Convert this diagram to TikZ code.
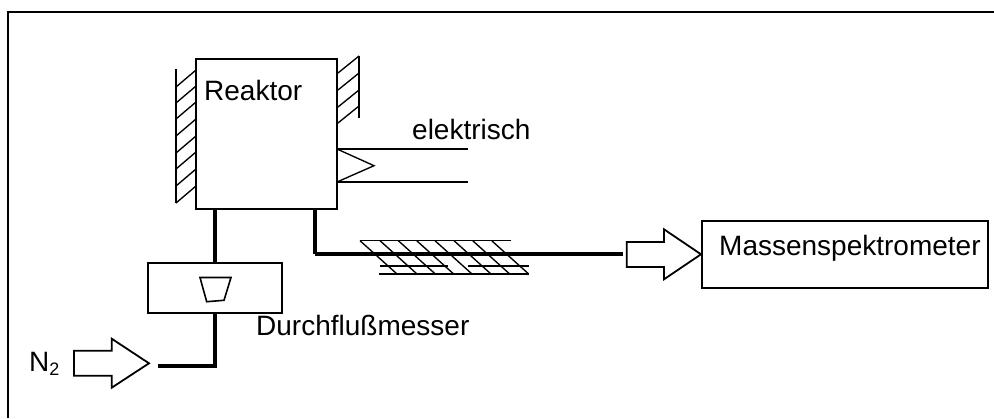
\documentclass[tikz,border=0pt]{standalone}
\usepackage{fontspec}
\setmainfont{Liberation Sans}
\tikzset{
  x=1pt,y=-1pt,
  thinline/.style={line width=1.35pt,black},
  box/.style={draw=black,line width=2pt,fill=white,inner sep=0pt,outer sep=0pt},
  pipe/.style={line width=4.4pt,black},
  hollow/.style={draw=black,line width=1.8pt,fill=white,line join=miter},
  lab/.style={inner sep=0pt,font=\fontsize{28pt}{30pt}\selectfont,anchor=base west}
}
\begin{document}
\begin{tikzpicture}
\useasboundingbox (0,0) rectangle (994,418);
% frame
\draw[line width=2pt,line cap=butt] (7.6,418) -- (7.6,12) -- (994,12);
% hatching
\draw[thinline] (176,69) -- (176,203);
\foreach \y in {87,103,119,136,153,169,186,203}{\draw[thinline] (176,\y) -- (196,\y-17);}
\draw[thinline] (359,56) -- (359,118);
\foreach \y in {73,90,107,123}{\draw[thinline] (338,\y) -- (359,\y-17);}
% reactor
\node[box,minimum width=140.6pt,minimum height=149.6pt] (reaktor) at (266.4,134) {};
\coordinate (rb2) at (314.7,208.8);
\node[lab] (lreak) at (204,100) {Reaktor};
% electric
\coordinate (ea) at (337,149);
\coordinate (eb) at (337,182);
\coordinate (ec) at (374,165.7);
\coordinate (ea2) at (468,149);
\coordinate (eb2) at (468,182);
\draw[thinline] (ea) -- (ea2);
\draw[thinline] (eb) -- (eb2);
\draw[thinline] (ea) -- (ec) -- (eb);
\node[lab] (lel) at (412,139.5) {elektrisch};
% flow meter
\node[box,minimum width=133.4pt,minimum height=50pt] (fm) at (215,288.3) {};
\draw[line width=1.6pt] (200,277.5) -- (231,277.5) -- (224,300.3) -- (206.7,301.7) -- cycle;
\node[lab] (lfm) at (256,335) {Durchflußmesser};
\draw[pipe] (reaktor.south -| fm.north) -- (fm.north);
\coordinate (n2end) at (157.7,365.7);
\draw[pipe,line join=miter] (fm.south) -- (fm.south |- n2end) -- (n2end);
% N2
\node[lab] (ln2) at (29,371) {N\raisebox{-4.5pt}{\fontsize{18pt}{20pt}\selectfont 2}};
\draw[hollow] (74,350.7) -- (111.7,350.7) -- (111.7,338.7) -- (149,363.3) -- (111.7,387.7) -- (111.7,375.7) -- (74,375.7) -- cycle;
% hatching on out pipe
\draw[thinline] (360,240.7) -- (510.7,240.7);
\foreach \x in {360,380,398.3,416.7,435,454,472.7,491.7}{\draw[thinline] (\x,240.7) -- (\x+37,274);}
\draw[thinline] (379,274) -- (529.3,274);
\draw[thinline] (380,266) -- (448,266) (468,266) -- (529,266);
% out pipe
\coordinate (outend) at (622.7,253.7);
\draw[pipe] (rb2) -- (rb2 |- outend);
\draw[pipe] (rb2 |- outend) -- (outend);
% out arrow
\draw[hollow] (626.7,242) -- (664,242) -- (664,229.3) -- (701,254.3) -- (664,279.3) -- (664,267) -- (626.7,267) -- cycle;
% MS
\node[box,minimum width=286pt,minimum height=67pt] (ms) at (845,254.5) {};
\node[lab] (lms) at (719,255) {Massenspektrometer};
\end{tikzpicture}
\end{document}
